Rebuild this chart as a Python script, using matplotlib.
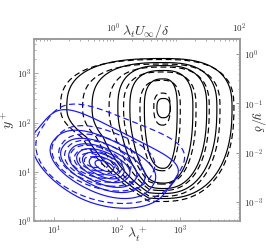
import numpy as np
import matplotlib
matplotlib.use("Agg")
import matplotlib.pyplot as plt
from matplotlib.ticker import FixedLocator, FuncFormatter, LogLocator, NullFormatter

plt.rcParams['mathtext.fontset'] = 'cm'
plt.rcParams['font.family'] = ['DejaVu Serif']

# ---- data: contour shapes (log10 decades), outer -> inner ----
x_range = [10**0.678, 10**3.948]
y_range = [1.0, 10**3.70]
delta_plus = 2450.0          # y+ at y/delta = 1
outer_scale = 85.0           # lambda+ at lambda U/delta = 1

# black solid contours: centre (log10 lambda+, log10 y+) and extents
bk_solid_cu = [2.73] * 6
bk_solid_cv = [2.30] * 6
bk_solid_left = [1.53, 1.13, 0.72, 0.53, 0.30, 0.10]
bk_solid_right = [1.09, 0.85, 0.69, 0.47, 0.22, 0.11]
bk_solid_top = [1.00, 0.92, 0.86, 0.76, 0.59, 0.19]
bk_solid_bottom = [1.84, 1.74, 1.64, 1.53, 1.23, 0.20]

# black dashed contours
bk_dash_cu = [2.72] * 6
bk_dash_cv = [2.30] * 6
bk_dash_left = [1.62, 1.27, 0.85, 0.62, 0.36, 0.14]
bk_dash_right = [1.13, 0.91, 0.74, 0.53, 0.28, 0.12]
bk_dash_top = [0.98, 0.89, 0.83, 0.73, 0.56, 0.30]
bk_dash_bottom = [1.90, 1.80, 1.68, 1.55, 1.28, 0.35]

# blue solid contours: centre, extents along tilted axes
bl_solid_tilt = -33.0
bl_solid_cu = [1.80] * 8
bl_solid_cv = [1.12] * 8
bl_solid_ul = [1.30, 0.96, 0.77, 0.63, 0.49, 0.39, 0.27, 0.17]
bl_solid_lr = [1.10, 0.86, 0.70, 0.56, 0.44, 0.34, 0.24, 0.16]
bl_solid_up = [0.72, 0.50, 0.40, 0.32, 0.25, 0.20, 0.14, 0.08]
bl_solid_dn = [0.76, 0.54, 0.43, 0.35, 0.27, 0.21, 0.15, 0.09]
bl_solid_qup = [5.0, 2.6, 2.3, 2.2, 2.2, 2.2, 2.2, 2.2]
bl_solid_qdn = [1.9, 2.1, 2.2, 2.2, 2.2, 2.2, 2.2, 2.2]

# blue dashed contours
bl_dash_tilt = -27.0
bl_dash_cu = [1.85, 1.78, 1.74, 1.70, 1.67, 1.65, 1.63, 1.62]
bl_dash_cv = [1.30, 1.26, 1.24, 1.22, 1.21, 1.20, 1.20, 1.20]
bl_dash_ul = [1.20, 0.86, 0.70, 0.56, 0.44, 0.35, 0.24, 0.15]
bl_dash_lr = [1.15, 0.83, 0.67, 0.54, 0.43, 0.33, 0.23, 0.14]
bl_dash_up = [0.82, 0.55, 0.44, 0.36, 0.28, 0.22, 0.15, 0.09]
bl_dash_dn = [0.88, 0.58, 0.47, 0.38, 0.30, 0.23, 0.16, 0.10]
bl_dash_qup = [4.0, 2.6, 2.3, 2.2, 2.2, 2.2, 2.2, 2.2]
bl_dash_qdn = [2.0, 2.1, 2.2, 2.2, 2.2, 2.2, 2.2, 2.2]

x_ticks = [10, 100, 1000]
y_ticks = [1, 10, 100, 1000]
top_ticks = [1, 100]
right_ticks = [1e-3, 1e-2, 1e-1, 1]

# ---- level-index field whose integer iso-lines pass through the read extents ----
U, V = np.meshgrid(np.linspace(0.5, 4.1, 600), np.linspace(-0.2, 3.9, 600))


def level_field(cu, cv, e1n, e1p, e2n, e2p, qpos, qneg, tilt=0.0, shear=0.0, knee=2.5):
    n = len(e1n)
    idx = np.arange(-1, n + 1)

    def pad(e, inner=1e-3):
        e = np.asarray(e, float)
        return np.concatenate([[e[0] * 1.6], e, [inner]])

    def padc(c):
        c = np.asarray(c, float)
        return np.concatenate([[c[0]], c, [c[-1]]])

    e1n, e1p, e2n, e2p = (pad(e) for e in (e1n, e1p, e2n, e2p))
    cu, cv = padc(cu), padc(cv)
    qpos = np.concatenate([[qpos[0]], qpos, [qpos[-1]]])
    qneg = np.concatenate([[qneg[0]], qneg, [qneg[-1]]])
    t = np.deg2rad(tilt)
    lo = np.full(U.shape, -1.0)
    hi = np.full(U.shape, float(n))
    for _ in range(26):
        mid = 0.5 * (lo + hi)
        du = U - np.interp(mid, idx, cu)
        dv = V - np.interp(mid, idx, cv)
        if shear:
            dv = dv + shear * np.minimum(U - knee, 0) * np.clip(-dv / 0.6, 0, 1)
        d1 = du * np.cos(t) + dv * np.sin(t)
        d2 = -du * np.sin(t) + dv * np.cos(t)
        a = np.where(d1 < 0, np.interp(mid, idx, e1n), np.interp(mid, idx, e1p))
        b = np.where(d2 < 0, np.interp(mid, idx, e2n), np.interp(mid, idx, e2p))
        q = np.where(d2 < 0, np.interp(mid, idx, qneg), np.interp(mid, idx, qpos))
        f = (np.abs(d1) / a) ** q + (np.abs(d2) / b) ** q
        inside = f <= 1
        lo = np.where(inside, mid, lo)
        hi = np.where(inside, hi, mid)
    return 0.5 * (lo + hi)


X, Y = 10**U, 10**V
dash = [(0, (5, 3))]
blue = '#1414ff'
lw = 0.85
nb = len(bk_solid_left)
q_bk_top = [2.7] * nb
q_bk_bot = [2.4] * nb

fig = plt.figure(figsize=(2.66, 2.48), dpi=100)
ax = fig.add_axes([34 / 266, 1 - 221 / 248, 206 / 266, 182 / 248])
ax.set_xscale('log')
ax.set_yscale('log')

F = level_field(bk_solid_cu, bk_solid_cv, bk_solid_left, bk_solid_right, bk_solid_bottom,
                bk_solid_top, q_bk_top, q_bk_bot, shear=0.7)
ax.contour(X, Y, F, levels=np.arange(nb), colors='black', linewidths=lw, linestyles='solid')
F = level_field(bk_dash_cu, bk_dash_cv, bk_dash_left, bk_dash_right, bk_dash_bottom,
                bk_dash_top, q_bk_top, q_bk_bot, shear=0.7)
ax.contour(X, Y, F, levels=np.arange(nb), colors='black', linewidths=lw, linestyles=dash)

F = level_field(bl_solid_cu, bl_solid_cv, bl_solid_ul, bl_solid_lr, bl_solid_dn, bl_solid_up,
                bl_solid_qup, bl_solid_qdn, tilt=bl_solid_tilt)
ax.contour(X, Y, F, levels=np.arange(len(bl_solid_ul)), colors=blue, linewidths=lw,
           linestyles='solid')
F = level_field(bl_dash_cu, bl_dash_cv, bl_dash_ul, bl_dash_lr, bl_dash_dn, bl_dash_up,
                bl_dash_qup, bl_dash_qdn, tilt=bl_dash_tilt)
ax.contour(X, Y, F, levels=np.arange(len(bl_dash_ul)), colors=blue, linewidths=lw,
           linestyles=dash)

ax.set_xlim(*x_range)
ax.set_ylim(*y_range)

fmt = FuncFormatter(lambda val, pos: r'$10^{%d}$' % round(np.log10(val)))
spine_c = '#9a9a9a'
for sp in ax.spines.values():
    sp.set_color(spine_c)
    sp.set_linewidth(1.2)

ax.xaxis.set_major_locator(FixedLocator(x_ticks))
ax.yaxis.set_major_locator(FixedLocator(y_ticks))
ax.xaxis.set_minor_locator(LogLocator(subs=np.arange(2, 10), numticks=20))
ax.yaxis.set_minor_locator(LogLocator(subs=np.arange(2, 10), numticks=20))
ax.xaxis.set_major_formatter(fmt)
ax.yaxis.set_major_formatter(fmt)
ax.xaxis.set_minor_formatter(NullFormatter())
ax.yaxis.set_minor_formatter(NullFormatter())
ax.tick_params(which='both', direction='in', colors=spine_c, labelcolor='#333333',
               labelsize=6.5, top=False, right=False)
ax.tick_params(which='major', length=3, width=0.6, pad=2)
ax.tick_params(which='minor', length=1.5, width=0.5)

top = ax.secondary_xaxis('top', functions=(lambda x: x / outer_scale, lambda x: x * outer_scale))
top.xaxis.set_major_locator(FixedLocator(top_ticks))
top.xaxis.set_minor_locator(LogLocator(subs=np.arange(1, 10), numticks=20))
top.xaxis.set_major_formatter(fmt)
top.xaxis.set_minor_formatter(NullFormatter())
top.tick_params(which='both', direction='in', colors=spine_c, labelcolor='#333333',
                labelsize=6.5, pad=3)
top.tick_params(which='major', length=1.5)
top.tick_params(which='minor', length=1.5)

right = ax.secondary_yaxis('right', functions=(lambda y: y / delta_plus, lambda y: y * delta_plus))
right.yaxis.set_major_locator(FixedLocator(right_ticks))
right.yaxis.set_minor_locator(LogLocator(subs=np.arange(2, 10), numticks=20))
right.yaxis.set_major_formatter(fmt)
right.yaxis.set_minor_formatter(NullFormatter())
right.tick_params(which='both', direction='in', colors=spine_c, labelcolor='#333333',
                  labelsize=6.5, pad=3)
right.tick_params(which='major', length=3)
right.tick_params(which='minor', length=1.5)
for sp in list(top.spines.values()) + list(right.spines.values()):
    sp.set_color(spine_c)
    sp.set_linewidth(1.2)

ax.text(0.5, -0.075, r'$\lambda_t^+$', transform=ax.transAxes, ha='center', va='center',
        fontsize=10, color='#333333')
ax.text(-0.126, 0.555, r'$y^+$', transform=ax.transAxes, ha='center', va='center',
        fontsize=10, rotation=90, color='#333333')
ax.text(1.087, 0.544, r'$y/\delta$', transform=ax.transAxes, ha='center', va='center',
        fontsize=10, rotation=270, color='#333333')
ax.text(0.544, 1.044, r'$\lambda_t U_\infty/\delta$', transform=ax.transAxes, ha='center',
        va='center', fontsize=10, color='#333333')

fig.savefig('out.png', dpi=100)
